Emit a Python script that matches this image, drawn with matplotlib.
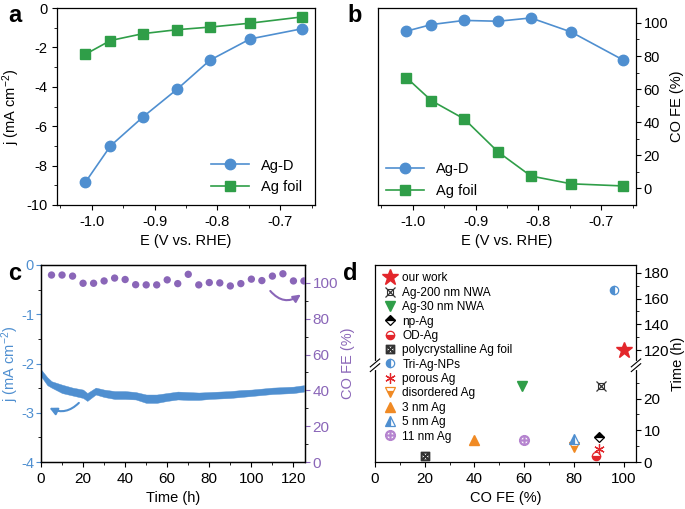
import matplotlib
matplotlib.use('Agg')
import matplotlib.pyplot as plt
import numpy as np
from matplotlib.legend_handler import HandlerTuple
from matplotlib.ticker import MultipleLocator, FixedLocator

plt.rcParams['font.family'] = ['Liberation Sans', 'DejaVu Sans']
plt.rcParams['mathtext.default'] = 'regular'
plt.rcParams['font.size'] = 10
plt.rcParams['xtick.direction'] = 'out'
plt.rcParams['ytick.direction'] = 'out'
plt.rcParams['axes.linewidth'] = 0.9

# --- data: panels a & b ---
potential = [-1.01, -0.97, -0.918, -0.864, -0.812, -0.748, -0.665]
j_agd = [-8.85, -7.0, -5.52, -4.12, -2.65, -1.57, -1.05]
j_foil = [-2.35, -1.65, -1.3, -1.1, -0.97, -0.77, -0.45]
fe_agd = [95, 99, 101.5, 101, 103, 94.5, 77.5]
fe_foil = [67, 53, 42, 22, 7.5, 2.8, 1.5]

# --- data: panel c (stability) ---
t_band = [0, 3, 5, 10, 15, 20, 22, 26, 30, 35, 40, 45, 50, 55, 60, 65, 70,
          75, 80, 85, 90, 95, 100, 105, 110, 115, 120, 125]
j_upper = [-2.12, -2.28, -2.36, -2.43, -2.49, -2.53, -2.60, -2.49, -2.53, -2.56,
           -2.56, -2.58, -2.63, -2.63, -2.60, -2.57, -2.58, -2.59, -2.58, -2.57,
           -2.56, -2.54, -2.53, -2.51, -2.49, -2.48, -2.47, -2.44]
j_lower = [-2.26, -2.44, -2.49, -2.60, -2.65, -2.70, -2.76, -2.63, -2.68, -2.72,
           -2.72, -2.73, -2.80, -2.80, -2.76, -2.73, -2.74, -2.74, -2.72, -2.71,
           -2.70, -2.68, -2.66, -2.64, -2.62, -2.61, -2.60, -2.57]
t_fe = [5, 10, 15, 20, 25, 30, 35, 40, 45, 50, 55, 60, 65, 70, 75, 80, 85,
        90, 95, 100, 105, 110, 115, 120, 125]
fe_time = [104.4, 104.4, 103.8, 99.8, 99.8, 101.1, 102.7, 101.9, 99.0, 98.9,
           98.9, 101.7, 99.6, 104.8, 98.9, 100.2, 100.0, 98.3, 99.6, 102.1,
           101.3, 103.8, 105.1, 101.1, 101.1]

# --- data: panel d (comparison) ---
d_labels = ['our work', 'Ag-200 nm NWA', 'Ag-30 nm NWA', 'np-Ag', 'OD-Ag',
            'polycrystalline Ag foil', 'Tri-Ag-NPs', 'porous Ag', 'disordered Ag',
            '3 nm Ag', '5 nm Ag', '11 nm Ag']
d_fe = [100, 91, 59, 90, 89, 20, 96, 90, 80, 40, 80, 60]
d_time = [120, 24, 24, 8, 1.8, 1.8, 167, 4, 4.8, 7, 7.4, 6.9]

blue = '#4f8fd0'
green = '#2f9e48'
purple = '#8a66b8'
red = '#e3262b'
orange = '#f08a24'

fig = plt.figure(figsize=(6.85, 5.09), dpi=100)
W, H = 685, 509


def px_axes(l, t, r, b):
    return fig.add_axes([l / W, 1 - b / H, (r - l) / W, (b - t) / H])


# ---------- a ----------
ax1 = px_axes(57, 8, 315, 205)
ax1.plot(potential, j_agd, '-o', color=blue, ms=7.5, lw=1.2, label='Ag-D')
ax1.plot(potential, j_foil, '-s', color=green, ms=6.5, lw=1.2, label='Ag foil')
ax1.set_xlim(-1.055, -0.645)
ax1.set_ylim(-10, 0)
ax1.set_xticks([-1.0, -0.9, -0.8, -0.7])
ax1.set_xticklabels(['-1.0', '-0.9', '-0.8', '-0.7'])
ax1.xaxis.set_minor_locator(MultipleLocator(0.05))
ax1.set_yticks([-10, -8, -6, -4, -2, 0])
ax1.set_yticklabels(['-10', '-8', '-6', '-4', '-2', '0'])
ax1.yaxis.set_minor_locator(MultipleLocator(1))
ax1.tick_params(labelsize=10.5)
ax1.set_xlabel('E (V vs. RHE)', fontsize=10.5)
ax1.set_ylabel('j (mA cm$^{-2}$)', fontsize=10.5, labelpad=3)
ax1.legend(loc='lower right', frameon=False, fontsize=10.5, handlelength=2.6,
           bbox_to_anchor=(1.0, -0.01))

# ---------- b ----------
ax2 = px_axes(378, 8, 636, 205)
ax2.plot(potential, fe_agd, '-o', color=blue, ms=7.5, lw=1.2, label='Ag-D')
ax2.plot(potential, fe_foil, '-s', color=green, ms=6.5, lw=1.2, label='Ag foil')
ax2.set_xlim(-1.055, -0.645)
ax2.set_ylim(-10, 109)
ax2.yaxis.tick_right()
ax2.yaxis.set_label_position('right')
ax2.set_xticks([-1.0, -0.9, -0.8, -0.7])
ax2.set_xticklabels(['-1.0', '-0.9', '-0.8', '-0.7'])
ax2.xaxis.set_minor_locator(MultipleLocator(0.05))
ax2.yaxis.set_major_locator(FixedLocator([0, 20, 40, 60, 80, 100]))
ax2.yaxis.set_minor_locator(FixedLocator([10, 30, 50, 70, 90]))
ax2.tick_params(labelsize=10.5)
ax2.tick_params(axis='y', pad=2)
ax2.set_xlabel('E (V vs. RHE)', fontsize=10.5)
ax2.set_ylabel('CO FE (%)', fontsize=10.5, labelpad=1)
ax2.legend(loc='lower left', frameon=False, fontsize=10.5, handlelength=2.6,
           bbox_to_anchor=(-0.02, -0.03))

# ---------- c ----------
ax3 = px_axes(41, 265, 305, 462)
ax3.fill_between(t_band, j_lower, j_upper, color=blue, lw=0.3, edgecolor=blue)
ax3.set_xlim(0, 125.5)
ax3.set_ylim(-4, 0)
ax3.xaxis.set_major_locator(MultipleLocator(20))
ax3.xaxis.set_minor_locator(MultipleLocator(10))
ax3.set_yticks([-4, -3, -2, -1, 0])
ax3.set_yticklabels(['-4', '-3', '-2', '-1', '0'])
ax3.yaxis.set_minor_locator(MultipleLocator(0.5))
ax3.tick_params(axis='y', colors=blue, labelcolor=blue, labelsize=10.5, pad=1.5)
ax3.tick_params(axis='x', labelsize=11)
ax3.set_xlabel('Time (h)', fontsize=10.5)
ax3.set_ylabel('j (mA cm$^{-2}$)', color=blue, fontsize=10.5, labelpad=0)
ax3.annotate('', xy=(4, -2.9), xytext=(18, -2.8),
             arrowprops=dict(arrowstyle='-|>', color=blue, lw=1.5, mutation_scale=11,
                             shrinkA=0, shrinkB=0,
                             connectionstyle='arc3,rad=-0.35'))
ax3r = ax3.twinx()
ax3r.scatter(t_fe, fe_time, s=28, color=purple, edgecolor='none', zorder=3)
ax3r.set_ylim(0, 110)
ax3r.yaxis.set_major_locator(FixedLocator([0, 20, 40, 60, 80, 100]))
ax3r.yaxis.set_minor_locator(FixedLocator([10, 30, 50, 70, 90]))
ax3r.tick_params(axis='y', colors=purple, labelcolor=purple, labelsize=11, pad=2)
ax3r.set_ylabel('CO FE (%)', color=purple, fontsize=10.5, labelpad=2)
ax3r.annotate('', xy=(123.5, 93.5), xytext=(109, 95.5),
              arrowprops=dict(arrowstyle='-|>', color=purple, lw=1.5, mutation_scale=11,
                              shrinkA=0, shrinkB=0,
                              connectionstyle='arc3,rad=0.45'))

# ---------- d ----------
LOW_TOP = 30.5
UP_BOT = 108.3
RATIO = 0.407


def fwd(y):
    y = np.asarray(y, dtype=float)
    return np.where(y <= LOW_TOP, y, LOW_TOP + np.maximum(y - UP_BOT, 0) * RATIO)


def inv(u):
    u = np.asarray(u, dtype=float)
    return np.where(u <= LOW_TOP, u, UP_BOT + (u - LOW_TOP) / RATIO)


ax4 = px_axes(375, 265, 636, 462)
ax4.set_yscale('function', functions=(fwd, inv))

styles = [
    dict(marker='*', color=red, ms=12),
    None,
    dict(marker='v', color=green, ms=6.5),
    dict(marker='D', color='black', ms=5, fillstyle='top',
         markerfacecoloralt='white', mec='black', mew=0.9),
    dict(marker='o', color=red, ms=6, fillstyle='bottom',
         markerfacecoloralt='white', mec=red, mew=0.9),
    dict(marker='$\\boxtimes$', color='#333333', ms=6),
    dict(marker='o', color=blue, ms=6, fillstyle='left',
         markerfacecoloralt='white', mec=blue, mew=0.9),
    dict(marker=(6, 2, 0), color=red, ms=7.5, mew=0.9),
    dict(marker='v', color=orange, ms=6.5, fillstyle='bottom',
         markerfacecoloralt='white', mec=orange, mew=0.9),
    dict(marker='^', color=orange, ms=6.5),
    dict(marker='^', color=blue, ms=6.5, fillstyle='left',
         markerfacecoloralt='white', mec=blue, mew=0.9),
    dict(marker='$\\oplus$', color='#b584cf', ms=7),
]

handles = []
for i, lab in enumerate(d_labels):
    if styles[i] is None:
        h1, = ax4.plot([d_fe[i]], [d_time[i]], ls='none', marker='x', color='#333333',
                       ms=7.5, mew=0.9)
        h2, = ax4.plot([d_fe[i]], [d_time[i]], ls='none', marker='s', mfc='none',
                       mec='#333333', ms=3.8, mew=0.8)
        handles.append((h1, h2))
    else:
        h, = ax4.plot([d_fe[i]], [d_time[i]], ls='none', **styles[i])
        handles.append(h)

ax4.legend(handles, d_labels, handler_map={tuple: HandlerTuple(ndivide=1)},
           loc='upper left', bbox_to_anchor=(0.015, 0.99), frameon=False, fontsize=8.6,
           labelspacing=0.2, handlelength=1.0, handletextpad=0.5, borderpad=0.25,
           borderaxespad=0.2)

ax4.set_xlim(0, 105)
ax4.set_ylim(0, 186)
ax4.xaxis.set_major_locator(MultipleLocator(20))
ax4.xaxis.set_minor_locator(MultipleLocator(10))
ax4.yaxis.set_major_locator(FixedLocator([0, 10, 20, 120, 140, 160, 180]))
ax4.yaxis.set_minor_locator(FixedLocator([5, 15, 25, 130, 150, 170]))
ax4.yaxis.tick_right()
ax4.yaxis.set_label_position('right')
ax4.tick_params(axis='both', labelsize=11)
ax4.tick_params(axis='y', pad=2)
ax4.set_xlabel('CO FE (%)', fontsize=10.5)
ax4.set_ylabel('Time (h)', fontsize=10.5, labelpad=1)

# break marks on both spines
yb = float(fwd(LOW_TOP) / fwd(186))
for xs in (0, 1):
    ax4.plot([xs, xs], [yb - 0.012, yb + 0.012], transform=ax4.transAxes,
             color='white', lw=3, clip_on=False, zorder=5)
    for dy in (-0.012, 0.012):
        ax4.plot([xs - 0.018, xs + 0.018], [yb + dy - 0.02, yb + dy + 0.02],
                 transform=ax4.transAxes, color='black', lw=0.8, clip_on=False,
                 zorder=6)

# panel letters
for lab, x, y in [('a', 8, 16), ('b', 347, 16), ('c', 8, 274), ('d', 343, 274)]:
    fig.text(x / W, 1 - y / H, lab, fontsize=17, fontweight='bold', va='center')

fig.savefig('out.png', dpi=100)
